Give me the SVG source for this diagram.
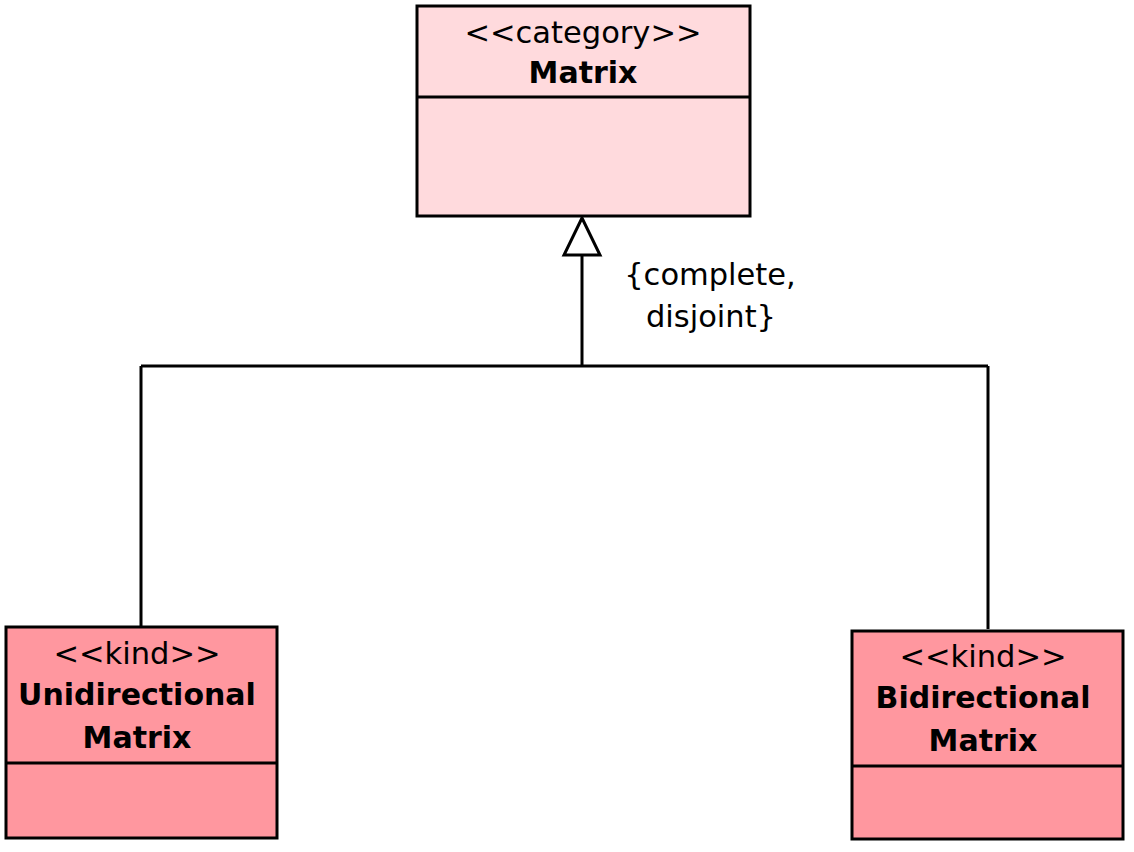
<svg xmlns="http://www.w3.org/2000/svg" width="1134" height="852" viewBox="0 0 1134 852">
<style>
.box{stroke:#000;stroke-width:3}
.cat{fill:#ffdadd}
.kind{fill:#ff979f}
.ln{stroke:#000;stroke-width:3;fill:none}
text{font-family:"DejaVu Sans","Liberation Sans",sans-serif;font-size:30.5px;fill:#000;text-anchor:middle}
.b{font-weight:bold;font-size:30px}
</style>
<g id="connectors">
<path class="ln" d="M582,366 L582,255"/>
<path d="M582,218 L600,255 L564,255 Z" fill="#fff" stroke="#000" stroke-width="3"/>
<path class="ln" d="M141,366 L988,366"/>
<path class="ln" d="M141,366 L141,626"/>
<path class="ln" d="M988,366 L988,629"/>
<text x="710" y="285">{complete,</text>
<text x="711" y="327">disjoint}</text>
</g>
<g id="matrix">
<rect class="box cat" x="417" y="6" width="333" height="210"/>
<line class="ln" x1="417" y1="97" x2="750" y2="97"/>
<text x="583" y="43">&lt;&lt;category&gt;&gt;</text>
<text class="b" x="583" y="83">Matrix</text>
</g>
<g id="unidirectional">
<rect class="box kind" x="6" y="627" width="271" height="211"/>
<line class="ln" x1="6" y1="763" x2="277" y2="763"/>
<text x="137" y="664">&lt;&lt;kind&gt;&gt;</text>
<text class="b" x="137" y="705">Unidirectional</text>
<text class="b" x="137" y="748">Matrix</text>
</g>
<g id="bidirectional">
<rect class="box kind" x="852" y="631" width="271" height="208"/>
<line class="ln" x1="852" y1="766" x2="1123" y2="766"/>
<text x="983" y="667">&lt;&lt;kind&gt;&gt;</text>
<text class="b" x="983" y="708">Bidirectional</text>
<text class="b" x="983" y="751">Matrix</text>
</g>
</svg>
